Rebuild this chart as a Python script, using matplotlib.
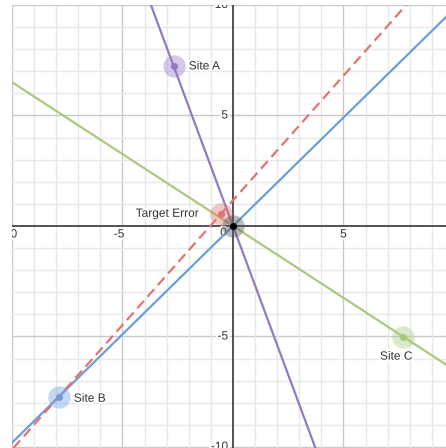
import matplotlib.pyplot as plt
import matplotlib.patheffects as pe

plt.rcParams['font.family'] = ['Liberation Sans', 'DejaVu Sans']

# DATA

site_names = ["Site A", "Site B", "Site C"]
site_x = [-2.68, -7.88, 7.70]
site_y = [7.22, -7.73, -5.01]

target_x, target_y = 0.0, 0.0
error_x, error_y = -0.54, 0.55

x_tick_vals = [-10, -5, 5]
y_tick_vals = [10, 5, -5, -10]

# STYLE

site_colors = ["#9479c4", "#6d9edb", "#a9c97f"]
red = "#e07470"
label_color = "#333333"

# label offsets in pixels (dx, dy, ha, va)
site_label_pos = [(15, 0, "left", "center"),
                  (15, -2, "left", "center"),
                  (-7, -20, "center", "center")]

fig = plt.figure(figsize=(4.46, 4.48), dpi=100)
ax = fig.add_axes([12 / 446, 0, 1 - 12 / 446, 443 / 448])
ax.set_xlim(-10, 9.64)
ax.set_ylim(-10.05, 10)
ax.set_axis_off()

# GRID

for v in range(-10, 11):
    if v == 0:
        continue
    col = "#c9c9c9" if v % 5 == 0 else "#e8e8e8"
    ax.axvline(v, color=col, lw=1, zorder=0)
    ax.axhline(v, color=col, lw=1, zorder=0)

ax.axvline(0, color="#444444", lw=1.3, zorder=1)
ax.axhline(0, color="#444444", lw=1.3, zorder=1)

halo = [pe.withStroke(linewidth=3, foreground="white")]

for v in x_tick_vals:
    dx = -3.5 if v < 0 else 0
    ax.annotate(str(v), (v, 0), xytext=(dx, -8.5), textcoords="offset pixels",
                ha="center", va="center", fontsize=8.6, color=label_color,
                path_effects=halo, clip_on=True, zorder=2)

for v in y_tick_vals:
    ax.annotate(str(v), (0, v), xytext=(-5, 0), textcoords="offset pixels",
                ha="right", va="center", fontsize=8.6, color=label_color,
                path_effects=halo, clip_on=True, zorder=2)

ax.annotate("0", (0, 0), xytext=(-9.5, -7), textcoords="offset pixels",
            ha="center", va="center", fontsize=8.6, color=label_color,
            path_effects=halo, zorder=2)

# BEARING LINES

for sx, sy, col in zip(site_x, site_y, site_colors):
    ax.axline((sx, sy), (target_x, target_y), color=col, lw=1.6, zorder=3)

ax.axline((site_x[1], site_y[1]), (error_x, error_y), color=red, lw=1.6,
          dashes=(4.5, 2.5), zorder=3)

# POINTS

for sx, sy, col, name, (dx, dy, ha, va) in zip(site_x, site_y, site_colors,
                                               site_names, site_label_pos):
    ax.scatter([sx], [sy], s=260, color=col, alpha=0.4, lw=0, zorder=4)
    ax.scatter([sx], [sy], s=26, color=col, lw=0, zorder=5)
    ax.annotate(name, (sx, sy), xytext=(dx, dy), textcoords="offset pixels",
                ha=ha, va=va, fontsize=8.6, color=label_color,
                path_effects=halo, zorder=6)

ax.scatter([error_x], [error_y], s=260, color=red, alpha=0.4, lw=0, zorder=4)
ax.scatter([error_x], [error_y], s=26, color=red, lw=0, zorder=5)
ax.annotate("Target Error", (error_x, error_y), xytext=(-23, 0),
            textcoords="offset pixels", ha="right", va="center",
            fontsize=8.6, color=label_color, path_effects=halo, zorder=6)

ax.scatter([target_x], [target_y], s=260, color="#555555", alpha=0.4, lw=0, zorder=4)
ax.scatter([target_x], [target_y], s=26, color="black", lw=0, zorder=5)

fig.savefig("out.png", dpi=100, facecolor="white")
